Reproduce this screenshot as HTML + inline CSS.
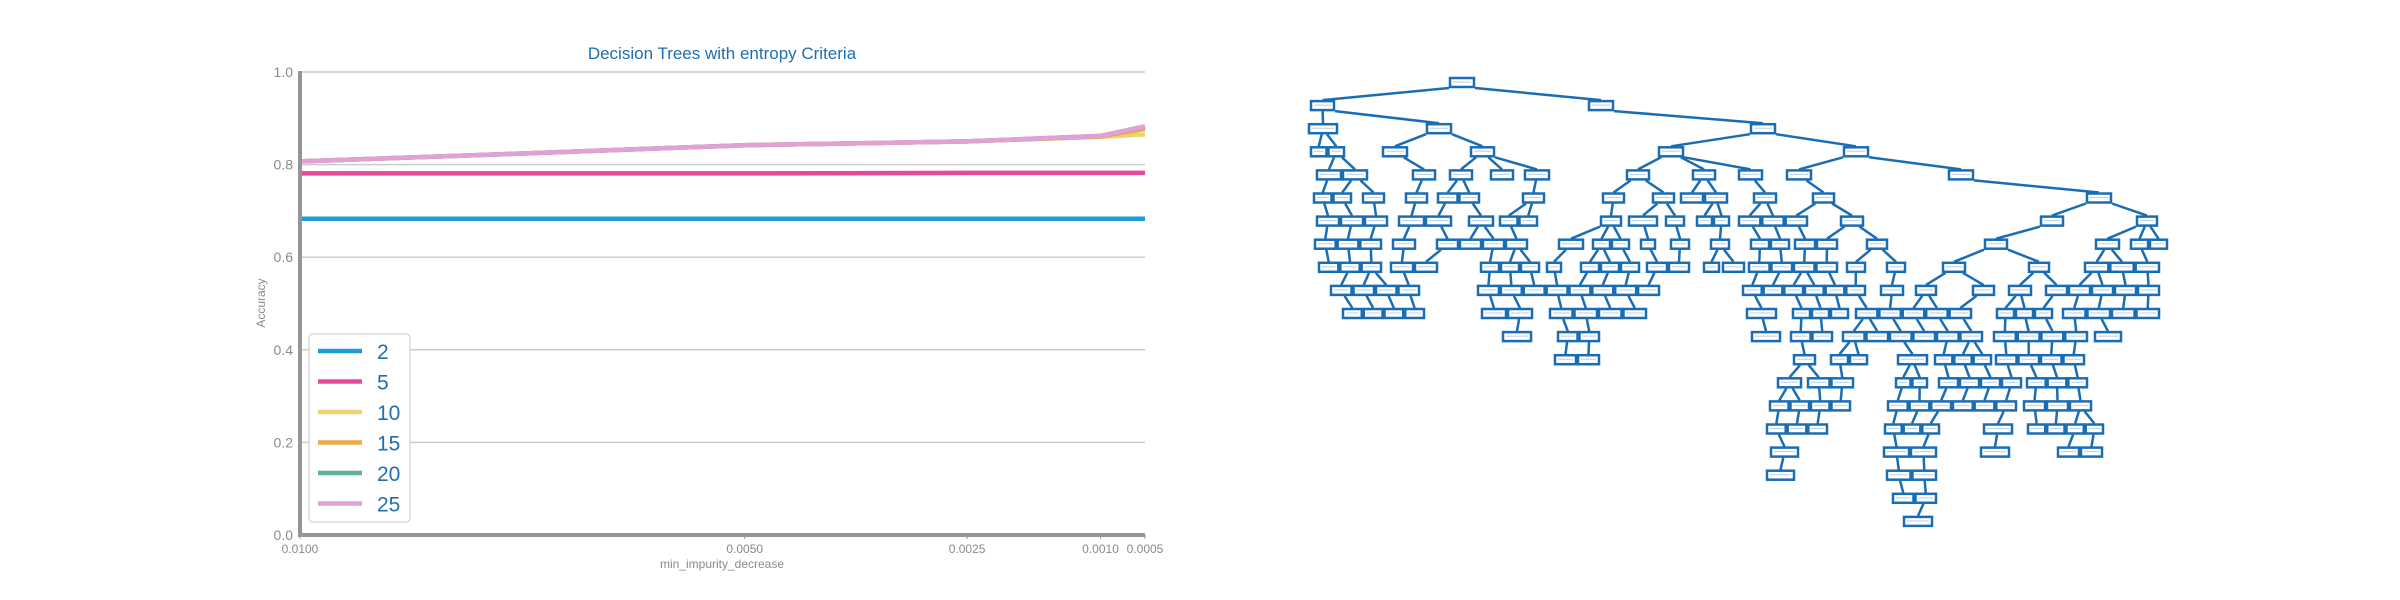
<!DOCTYPE html>
<html><head><meta charset="utf-8"><style>
html,body{margin:0;padding:0;background:#fff;width:2400px;height:600px;overflow:hidden}
svg{display:block}
text{font-family:"Liberation Sans","DejaVu Sans",sans-serif}
</style></head><body>
<svg id="svg" width="2400" height="600" xmlns="http://www.w3.org/2000/svg">
<g id="chart"></g>
<g id="tree"></g>
</svg>
<script>
const xValues = [0.01, 0.0075, 0.005, 0.0025, 0.001, 0.0005];
const xTicks = [0.01, 0.005, 0.0025, 0.001, 0.0005];
const xTickLabels = ["0.0100", "0.0050", "0.0025", "0.0010", "0.0005"];
const yTicks = [0, 0.2, 0.4, 0.6, 0.8, 1.0];
const seriesNames = ["2", "5", "10", "15", "20", "25"];
const s2 = [0.683, 0.683, 0.683, 0.683, 0.683, 0.683];
const s5 = [0.781, 0.781, 0.781, 0.782, 0.782, 0.782];
const s10 = [0.807, 0.824, 0.842, 0.850, 0.860, 0.865];
const s15 = [0.807, 0.824, 0.842, 0.850, 0.861, 0.877];
const s20 = [0.807, 0.824, 0.842, 0.850, 0.862, 0.882];
const s25 = [0.807, 0.824, 0.842, 0.850, 0.862, 0.883];
const seriesColors = ["#1f9ad6", "#e8489a", "#efd370", "#e9ab45", "#5eb497", "#e2a0d6"];

// tree level segments [x1,x2]
const treeLevels = [
 [[1449,1475]],
 [[1310,1335],[1588,1614]],
 [[1308,1338],[1426,1452],[1750,1776]],
 [[1310,1345],[1382,1408],[1470,1495],[1658,1684],[1843,1869]],
 [[1316,1368],[1412,1436],[1449,1473],[1490,1514],[1524,1550],[1626,1650],[1692,1716],[1738,1763],[1786,1812],[1948,1974]],
 [[1313,1352],[1362,1385],[1405,1428],[1437,1480],[1522,1545],[1602,1625],[1652,1675],[1680,1728],[1753,1777],[1812,1835],[2086,2112]],
 [[1316,1388],[1398,1452],[1468,1494],[1499,1538],[1600,1622],[1628,1658],[1665,1685],[1696,1730],[1738,1808],[1840,1864],[2040,2064],[2136,2158]],
 [[1314,1382],[1392,1416],[1436,1528],[1558,1584],[1592,1630],[1640,1656],[1670,1690],[1710,1730],[1750,1790],[1794,1838],[1866,1888],[1984,2008],[2095,2120],[2130,2168]],
 [[1318,1382],[1390,1438],[1480,1540],[1546,1562],[1580,1640],[1646,1690],[1703,1720],[1722,1745],[1748,1838],[1846,1866],[1886,1906],[1942,1966],[2028,2050],[2084,2160]],
 [[1330,1420],[1477,1660],[1742,1866],[1880,1904],[1915,1937],[1972,1995],[2008,2032],[2045,2160]],
 [[1342,1425],[1481,1533],[1549,1647],[1746,1777],[1792,1849],[1855,1972],[1996,2053],[2062,2160]],
 [[1502,1532],[1557,1600],[1751,1781],[1790,1833],[1842,1983],[1993,2088],[2094,2122]],
 [[1554,1600],[1793,1816],[1830,1868],[1897,1928],[1934,1992],[1995,2085]],
 [[1777,1802],[1807,1854],[1895,1928],[1938,2022],[2026,2088]],
 [[1769,1851],[1887,2017],[2023,2092]],
 [[1766,1828],[1884,1940],[1983,2013],[2027,2104]],
 [[1770,1799],[1883,1937],[1980,2010],[2057,2103]],
 [[1766,1795],[1886,1937]],
 [[1892,1937]],
 [[1903,1933]]
];

const NS = "http://www.w3.org/2000/svg";
function mk(parent, tag, attrs){const e=document.createElementNS(NS,tag);for(const k in attrs)e.setAttribute(k,attrs[k]);parent.appendChild(e);return e;}

const L=300,R=1145,T=72,B=535;
const xs = v => L + (0.01 - v)/(0.01-0.0005)*(R-L);
const ys = v => B - v*(B-T);
const chart=document.getElementById('chart');

yTicks.forEach(t=>{
  if(t>0){const g=mk(chart,'line',{x1:L,x2:R,y1:ys(t),y2:ys(t),stroke:'#cccccc','stroke-width':1.5});
  
  }
  const tx=mk(chart,'text',{x:L-7,y:ys(t)+5,'text-anchor':'end','font-size':14,fill:'#8a8a8a'});
  tx.textContent=t.toFixed(1);
  
  
});
xTicks.forEach((t,i)=>{
  const tk=mk(chart,'line',{x1:xs(t),x2:xs(t),y1:B,y2:B+4,stroke:'#999','stroke-width':1});
  
  
  const tx=mk(chart,'text',{x:xs(t),y:B+18,'text-anchor':'middle','font-size':12,fill:'#8a8a8a'});
  tx.textContent=xTickLabels[i];
  
  
});
const allSeries=[s2,s5,s10,s15,s20,s25];
allSeries.forEach((s,i)=>{
  const d=s.map((v,j)=>(j?'L':'M')+xs(xValues[j]).toFixed(1)+' '+ys(v).toFixed(1)).join(' ');
  const p=mk(chart,'path',{d:d,fill:'none',stroke:seriesColors[i],'stroke-width':4.5,'stroke-linejoin':'round'});
  
  
});
const ya=mk(chart,'line',{x1:L,x2:L,y1:T-1,y2:B+2,stroke:'#959595','stroke-width':4});


const xa=mk(chart,'line',{x1:L-2,x2:R,y1:B,y2:B,stroke:'#959595','stroke-width':4});


const title=mk(chart,'text',{x:722,y:59,'text-anchor':'middle','font-size':17,fill:'#1f6fb0'});
title.textContent='Decision Trees with entropy Criteria';


const xl=mk(chart,'text',{x:722,y:568,'text-anchor':'middle','font-size':12,fill:'#8a8a8a'});
xl.textContent='min_impurity_decrease';


const yl=mk(chart,'text',{x:0,y:0,'text-anchor':'middle','font-size':12,fill:'#8a8a8a',transform:'translate(265,303) rotate(-90)'});
yl.textContent='Accuracy';


const lg=mk(chart,'g',{});


const lb=mk(lg,'rect',{x:309,y:334,width:101,height:188,rx:4,fill:'#fff',stroke:'#d8d8d8','stroke-width':1.5});


seriesNames.forEach((n,i)=>{
  const y=351+i*30.5;
  const g=mk(lg,'g',{});
  
  
  mk(g,'line',{x1:318,x2:362,y1:y,y2:y,stroke:seriesColors[i],'stroke-width':4.5});
  const t=mk(g,'text',{x:377,y:y+8,'font-size':21,fill:'#1f6fb0'});
  t.textContent=n;
});

const tree=document.getElementById('tree');
const levelY=i=>83+i*23.1;
const boxes=treeLevels.map((segs,li)=>{
  const out=[];
  segs.forEach(([a,b])=>{
    const len=b-a; const n=Math.max(1,Math.round(len/22)); const w=len/n;
    for(let k=0;k<n;k++) out.push({x:a+k*w,w:w,cx:a+k*w+w/2});
  });
  return out;
});
const lines=mk(tree,'g',{stroke:'#1a6db3','stroke-width':2.5,fill:'none'});


boxes.forEach((lv,li)=>{
  if(li===0)return;
  const prev=boxes[li-1];
  lv.forEach(bx=>{
    let best=prev[0];prev.forEach(p=>{if(Math.abs(p.cx-bx.cx)<Math.abs(best.cx-bx.cx))best=p;});
    const px=best.cx+Math.max(-best.w/2,Math.min(best.w/2,(bx.cx-best.cx)*0.3));
    const e=mk(lines,'line',{x1:px,y1:levelY(li-1)+5,x2:bx.cx,y2:levelY(li)-6});
    
    
  });
});
boxes.forEach((lv,li)=>{
  lv.forEach(bx=>{
    const r=mk(tree,'rect',{x:bx.x+1,y:levelY(li)-5,width:Math.max(6,bx.w-2),height:9,fill:'#fff',stroke:'#1a6db3','stroke-width':2.5});
    
    
    mk(tree,'line',{x1:bx.x+4,x2:bx.x+bx.w-4,y1:levelY(li)-1,y2:levelY(li)-1,stroke:'#b9cfe3','stroke-width':1});
  });
});
</script>
</body></html>
